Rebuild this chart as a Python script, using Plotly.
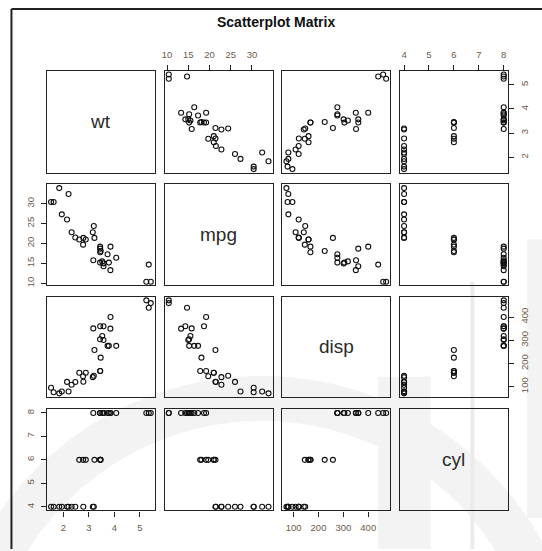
import plotly.graph_objects as go

# mtcars values
mpg = [21.0, 21.0, 22.8, 21.4, 18.7, 18.1, 14.3, 24.4, 22.8, 19.2, 17.8, 16.4, 17.3, 15.2, 10.4, 10.4,
       14.7, 32.4, 30.4, 33.9, 21.5, 15.5, 15.2, 13.3, 19.2, 27.3, 26.0, 30.4, 15.8, 19.7, 15.0, 21.4]
cyl = [6, 6, 4, 6, 8, 6, 8, 4, 4, 6, 6, 8, 8, 8, 8, 8, 8, 4, 4, 4, 4, 8, 8, 8, 8, 4, 4, 4, 8, 6, 8, 4]
disp = [160, 160, 108, 258, 360, 225, 360, 146.7, 140.8, 167.6, 167.6, 275.8, 275.8, 275.8, 472, 460,
        440, 78.7, 75.7, 71.1, 120.1, 318, 304, 350, 400, 79, 120.3, 95.1, 351, 145, 301, 121]
wt = [2.620, 2.875, 2.320, 3.215, 3.440, 3.460, 3.570, 3.190, 3.150, 3.440, 3.440, 4.070, 3.730, 3.780,
      5.250, 5.424, 5.345, 2.200, 1.615, 1.835, 2.465, 3.520, 3.435, 3.840, 3.845, 1.935, 2.140, 1.513,
      3.170, 2.770, 3.570, 2.780]

var_names = ["wt", "mpg", "disp", "cyl"]
var_data = {"wt": wt, "mpg": mpg, "disp": disp, "cyl": cyl}
tick_vals = {"wt": [2, 3, 4, 5], "mpg": [10, 15, 20, 25, 30], "disp": [100, 200, 300, 400], "cyl": [4, 5, 6, 7, 8]}
title_text = "Scatterplot Matrix"

W, H = 542, 551
col_px = [(44.3, 152.6), (162.7, 271.0), (281.0, 389.3), (399.3, 507.5)]
row_px = [(71.0, 173.5), (185.0, 286.5), (297.7, 398.5), (410.7, 512.3)]

TICK_COLOR = "#6e5a48"
FONT = "Liberation Sans, Arial, sans-serif"

def rng(v):
    lo, hi = min(v), max(v)
    e = (hi - lo) * 0.04
    return [lo - e, hi + e]

fig = go.Figure()
layout = dict(
    width=W, height=H, margin=dict(l=0, r=0, t=0, b=0),
    paper_bgcolor="white", plot_bgcolor="rgba(0,0,0,0)", showlegend=False,
)
annotations = []
shapes = []

n = 4
for i in range(n):          # row
    for j in range(n):      # column
        k = i * n + j + 1
        xa = "xaxis" if k == 1 else f"xaxis{k}"
        ya = "yaxis" if k == 1 else f"yaxis{k}"
        xref = "x" if k == 1 else f"x{k}"
        yref = "y" if k == 1 else f"y{k}"
        x0, x1 = col_px[j]
        y0, y1 = row_px[i]
        xv = var_names[j]
        yv = var_names[i]
        xax = dict(domain=[x0 / W, x1 / W], range=rng(var_data[xv]), anchor=yref,
                   showgrid=False, zeroline=False, showline=True, mirror=True,
                   linecolor="#222", linewidth=1.3, showticklabels=False, ticks="",
                   fixedrange=True)
        yax = dict(domain=[1 - y1 / H, 1 - y0 / H], range=rng(var_data[yv]), anchor=xref,
                   showgrid=False, zeroline=False, showline=True, mirror=True,
                   linecolor="#222", linewidth=1.3, showticklabels=False, ticks="",
                   fixedrange=True)
        tick_common = dict(ticks="outside", ticklen=5, tickwidth=1, tickcolor="#222",
                           showticklabels=True, ticklabelstandoff=3,
                           tickfont=dict(family=FONT, size=9.5, color=TICK_COLOR))
        if i == 0 and j % 2 == 1:
            xax.update(tick_common, side="top", tickvals=tick_vals[xv])
        if i == n - 1 and j % 2 == 0:
            xax.update(tick_common, side="bottom", tickvals=tick_vals[xv])
        if j == 0 and i % 2 == 1:
            yax.update(tick_common, side="left", tickvals=tick_vals[yv], tickangle=-90)
        if j == n - 1 and i % 2 == 0:
            yax.update(tick_common, side="right", tickvals=tick_vals[yv], tickangle=-90)
        layout[xa] = xax
        layout[ya] = yax
        if i == j:
            annotations.append(dict(text=xv, xref=f"{xref} domain", yref=f"{yref} domain",
                                    x=0.5, y=0.5, showarrow=False,
                                    font=dict(family=FONT, size=19, color="#2a2a2a")))
            fig.add_trace(go.Scatter(x=[], y=[], xaxis=xref, yaxis=yref))
        else:
            fig.add_trace(go.Scatter(
                x=var_data[xv], y=var_data[yv], mode="markers", xaxis=xref, yaxis=yref,
                marker=dict(symbol="circle-open", size=5, color="#111", line=dict(width=1.1, color="#111")),
                hoverinfo="skip"))

annotations.append(dict(text="<b>" + title_text + "</b>", xref="paper", yref="paper",
                        x=275 / W, y=1 - 22 / H, showarrow=False, xanchor="center", yanchor="middle",
                        font=dict(family=FONT, size=14, color="#111")))

# outer frame (top and left edges visible)
shapes.append(dict(type="line", xref="paper", yref="paper", x0=8.5 / W, x1=1, y0=1 - 9 / H, y1=1 - 9 / H,
                   line=dict(color="#222", width=2)))
shapes.append(dict(type="line", xref="paper", yref="paper", x0=8.5 / W, x1=8.5 / W, y0=0, y1=1 - 9 / H,
                   line=dict(color="#222", width=2)))

# faint background watermark
wm = "#f3f3f3"
shapes.append(dict(type="circle", xref="paper", yref="paper", layer="below",
                   x0=-40 / W, x1=560 / W, y0=1 - 1000 / H, y1=1 - 400 / H,
                   line=dict(color=wm, width=45)))
shapes.append(dict(type="rect", xref="paper", yref="paper", layer="below",
                   x0=377 / W, x1=430 / W, y0=0, y1=1 - 378 / H, line=dict(width=0), fillcolor=wm))
shapes.append(dict(type="rect", xref="paper", yref="paper", layer="below",
                   x0=470 / W, x1=474 / W, y0=0, y1=1 - 283 / H, line=dict(width=0), fillcolor="#ebebeb"))
shapes.append(dict(type="rect", xref="paper", yref="paper", layer="below",
                   x0=527 / W, x1=1, y0=1 - 520 / H, y1=1 - 240 / H, line=dict(width=0), fillcolor=wm))

layout["annotations"] = annotations
layout["shapes"] = shapes
fig.update_layout(**layout)
fig.write_html("out.html", config={"displayModeBar": False},
               post_script="document.body.style.margin='0px';document.body.style.overflow='hidden';")
